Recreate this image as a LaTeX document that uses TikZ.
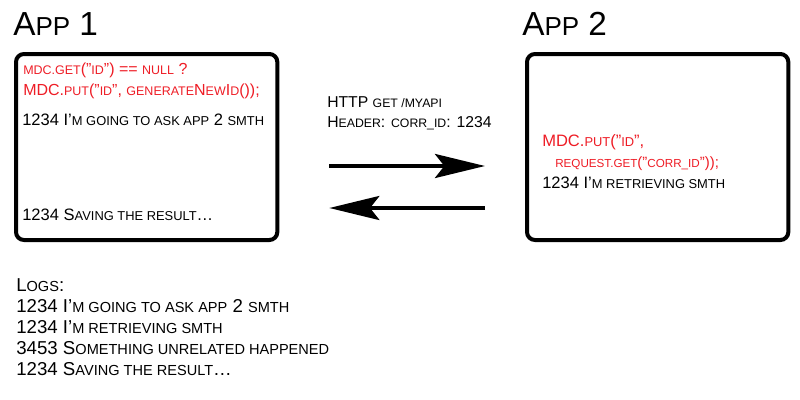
\documentclass[tikz,border=0pt]{standalone}
\usepackage{fontspec}
\setmainfont{Liberation Sans}
\usetikzlibrary{arrows.meta}

\definecolor{mdcred}{HTML}{EE1C25}
% fake small caps
\newcommand{\sm}[1]{\scalebox{0.78}{#1}}

\begin{document}
\begin{tikzpicture}[x=0.75pt,y=-0.75pt]
\tikzstyle{appbox} = [draw, line width=3pt, rounded corners=6pt, minimum width=196pt, minimum height=139.5pt, anchor=north west, inner sep=0pt]
\tikzstyle{txt} = [anchor=base west, inner sep=0pt, font=\fontsize{12.4pt}{15pt}\selectfont]
\tikzstyle{code} = [txt, text=mdcred]
\tikzstyle{logline} = [txt, font=\fontsize{14pt}{16pt}\selectfont]
\tikzstyle{title} = [anchor=base west, inner sep=0pt, font=\fontsize{25pt}{30pt}\selectfont]
\tikzstyle{call} = [line width=3pt, -{Stealth[length=37.5pt, width=18pt, inset=7pt]}]
\useasboundingbox (0,0) rectangle (800,400);

% the two applications
\node[title] (t1) at (13,35) {A\sm{PP} 1};
\node[title] (t2) at (522,35) {A\sm{PP} 2};
\node[appbox] (app1) at (14,52) {};
\node[appbox] (app2) at (525,52) {};

% app 1
\node[code, font=\fontsize{12pt}{14pt}\selectfont] (c1) at (23,74) {\sm{MDC.GET}(”\sm{ID}”) == \sm{NULL} ?};
\node[code, font=\fontsize{12pt}{14pt}\selectfont] (c2) at (23,95) {MDC.\sm{PUT}(”\sm{ID}”, \sm{GENERATE}N\sm{EW}I\sm{D}());};
\node[txt] (l1) at (22,125) {1234 I’\sm{M GOING TO ASK APP} 2 \sm{SMTH}};
\node[txt] (l4) at (22,220) {1234 S\sm{AVING THE RESULT}…};

% request / response
\node[txt, font=\fontsize{11.8pt}{14pt}\selectfont] (req) at (327,107) {HTTP \sm{GET /MYAPI}};
\node[txt, font=\fontsize{11.8pt}{14pt}\selectfont] (hdr) at (327,127) {H\sm{EADER}: \sm{CORR\_ID}: 1234};
\draw[call, shorten <=37.5pt, shorten >=30pt] ([yshift=-14.25pt]app1.east) -- ([yshift=-14.25pt]app2.west);
\draw[call, shorten <=30pt, shorten >=37.5pt] ([yshift=-45.75pt]app2.west) -- ([yshift=-45.75pt]app1.east);

% app 2
\node[code] (c3) at (542,146) {MDC.\sm{PUT}(”\sm{ID}”,};
\node[code, font=\fontsize{11.2pt}{14pt}\selectfont] (c4) at (555,167) {\sm{REQUEST.GET}(”\sm{CORR\_ID}”));};
\node[txt] (l2) at (542,188) {1234 I’\sm{M RETRIEVING SMTH}};

% combined log
\node[logline] (logs) at (16,291) {L\sm{OGS}:};
\node[logline] (g1) at (16,312) {1234 I’\sm{M GOING TO ASK APP} 2 \sm{SMTH}};
\node[logline] (g2) at (16,333) {1234 I’\sm{M RETRIEVING SMTH}};
\node[logline] (g3) at (16,354) {3453 S\sm{OMETHING UNRELATED HAPPENED}};
\node[logline] (g4) at (16,375) {1234 S\sm{AVING THE RESULT}…};
\end{tikzpicture}
\end{document}
